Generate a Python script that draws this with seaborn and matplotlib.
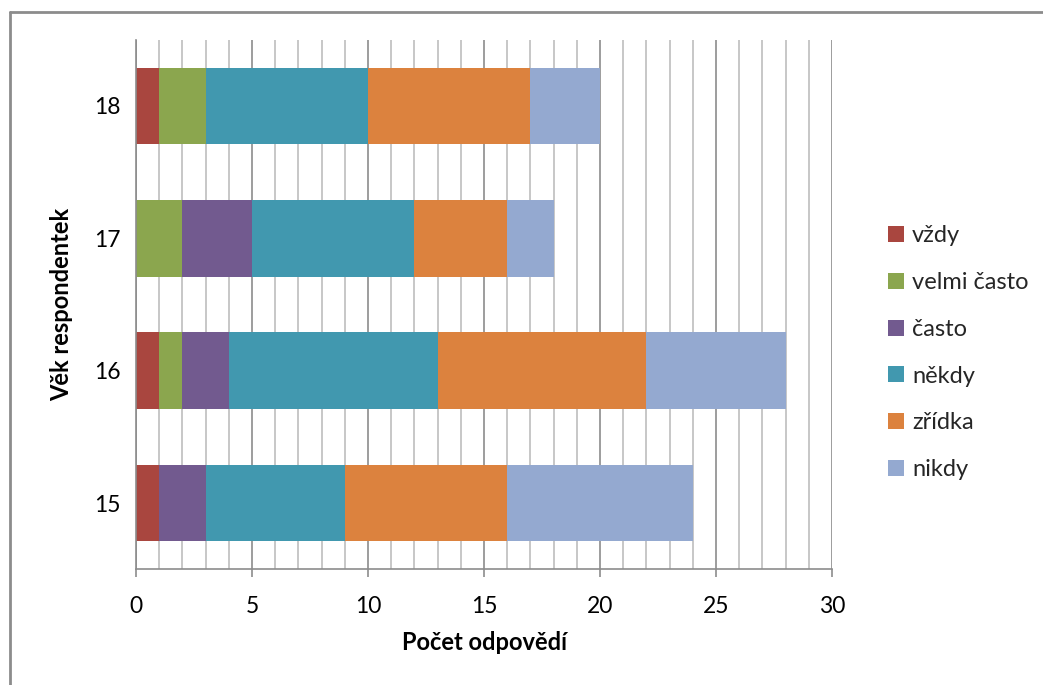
import matplotlib
matplotlib.use("Agg")
import matplotlib.pyplot as plt
import seaborn as sns
import pandas as pd
import numpy as np
from matplotlib.lines import Line2D
from matplotlib.patches import Patch

ages = ["18", "17", "16", "15"]
categories = ["vždy", "velmi často", "často", "někdy", "zřídka", "nikdy"]
vzdy = [1, 0, 1, 1]
velmi_casto = [2, 2, 1, 0]
casto = [0, 3, 2, 2]
nekdy = [7, 7, 9, 6]
zridka = [7, 4, 9, 7]
nikdy = [3, 2, 6, 8]
colors = ["#A9463F", "#8BA64E", "#725A8F", "#4198AF", "#DC823E", "#94A9D0"]

series = [vzdy, velmi_casto, casto, nekdy, zridka, nikdy]

sns.set_theme(style="white")
plt.rcParams["font.family"] = ["Lato", "DejaVu Sans"]

fig = plt.figure(figsize=(10.43, 6.85), dpi=100)
ax = fig.add_axes([0.1304, 0.169, 0.6673, 0.773])

cum = np.cumsum(np.array(series), axis=0)
# draw from the largest cumulative downward so that segments stack
for i in range(len(categories) - 1, -1, -1):
    df = pd.DataFrame({"age": ages, "value": cum[i]})
    sns.barplot(data=df, x="value", y="age", order=ages, color=colors[i],
                orient="h", width=0.58, linewidth=0, saturation=1, ax=ax, zorder=3)

ax.set_xlim(0, 30)
ax.set_ylim(3.5, -0.5)
ax.set_xticks(range(0, 31, 5))
ax.set_xticks(range(0, 31, 1), minor=True)
ax.grid(False)
ax.xaxis.grid(True, which="minor", color="#BDBDBD", linewidth=1.2, zorder=0)
ax.xaxis.grid(True, which="major", color="#8C8C8C", linewidth=1.2, zorder=0)
ax.set_axisbelow(True)
ax.tick_params(axis="x", which="major", direction="out", length=6, color="#8C8C8C", width=1.2,
               labelsize=16.5, pad=13, bottom=True, labelcolor="black")
ax.tick_params(axis="x", which="minor", length=0)
ax.tick_params(axis="y", length=0, labelsize=16.5, pad=11, labelcolor="black")
for s in ["top", "right"]:
    ax.spines[s].set_visible(False)
for s in ["left", "bottom"]:
    ax.spines[s].set_color("#8C8C8C")
    ax.spines[s].set_linewidth(1.2)
    ax.spines[s].set_zorder(4)

ax.set_xlabel("Počet odpovědí", fontsize=17, fontweight="bold", labelpad=10, color="black")
ax.set_ylabel("Věk respondentek", fontsize=17, fontweight="bold", labelpad=15, color="black")

handles = [Patch(facecolor=c, edgecolor="none") for c in colors]
leg = fig.legend(handles, categories, loc="center left", bbox_to_anchor=(0.851, 0.485),
                 frameon=False, fontsize=17, handlelength=0.68, handleheight=0.68,
                 labelspacing=1.09, handletextpad=0.35, borderaxespad=0, borderpad=0)

# outer chart border (top and left visible)
fig.add_artist(Line2D([0.0096, 0.0096], [0, 0.9825], color="#8C8C8C", linewidth=2,
                      transform=fig.transFigure))
fig.add_artist(Line2D([0.0096, 1.0], [0.9825, 0.9825], color="#8C8C8C", linewidth=2,
                      transform=fig.transFigure))

fig.savefig("out.png", dpi=100)
